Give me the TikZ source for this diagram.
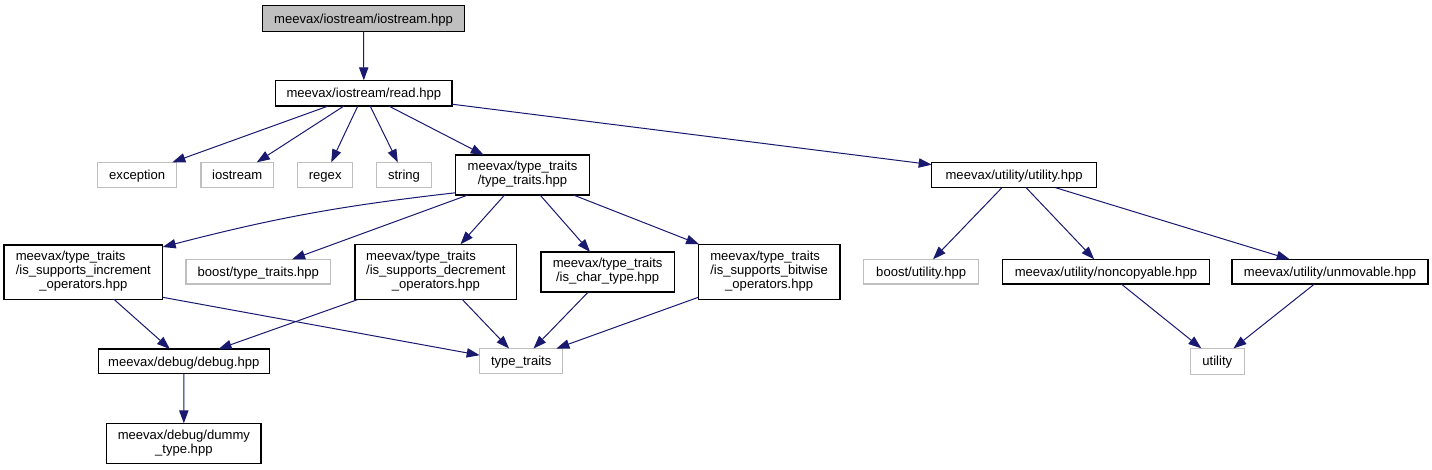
\documentclass[tikz,border=0pt]{standalone}
\usepackage{fontspec}
\setmainfont{Liberation Sans}
\usetikzlibrary{arrows.meta}
\definecolor{edgeblue}{HTML}{191970}
\definecolor{extgray}{HTML}{BFBFBF}
\tikzset{
  every node/.style={font=\fontsize{9.8}{10.5}\selectfont, inner sep=0pt, outer sep=0pt, align=center},
  oneline/.style={text height=7pt, text depth=0pt},
  docbox/.style={draw=black, line width=0.8pt, fill=white, rectangle},
  extbox/.style={draw=extgray, line width=0.8pt, fill=white, rectangle},
  rootbox/.style={draw=black, line width=0.8pt, fill=extgray, rectangle},
  dep/.style={draw=edgeblue, line width=0.75pt, -{Triangle[length=9.75pt,width=7pt]}}
}
\begin{document}
\begin{tikzpicture}[x=0.75pt,y=-0.75pt]
\useasboundingbox (0,0) rectangle (1432,469);
% row 0
\node[rootbox, oneline, minimum width=201.6*0.75pt, minimum height=25.6*0.75pt] (top) at (363.5,18.5) {meevax/iostream/iostream.hpp};
% row 1
\node[docbox, oneline, minimum width=176.3*0.75pt, minimum height=25.7*0.75pt] (read) at (363.85,93.15) {meevax/iostream/read.hpp};
% row 2
\node[extbox, oneline, minimum width=79*0.75pt, minimum height=25.4*0.75pt] (exc) at (137.2,175) {exception};
\node[extbox, oneline, minimum width=72.3*0.75pt, minimum height=25.4*0.75pt] (ios) at (237.15,175) {iostream};
\node[extbox, oneline, minimum width=55*0.75pt, minimum height=25.4*0.75pt] (regex) at (325.2,175) {regex};
\node[extbox, oneline, minimum width=55.4*0.75pt, minimum height=25.4*0.75pt] (string) at (404,175) {string};
\node[docbox, minimum width=133.6*0.75pt, minimum height=40*0.75pt] (tt) at (522.5,175) {\begin{tabular}{@{}l@{}}meevax/type\_traits\\\multicolumn{1}{@{}c@{}}{/type\_traits.hpp}\end{tabular}};
\node[docbox, oneline, minimum width=164.8*0.75pt, minimum height=25.4*0.75pt] (util) at (1014.1,175) {meevax/utility/utility.hpp};
% row 3
\node[docbox, minimum width=158.7*0.75pt, minimum height=54.3*0.75pt] (incr) at (83.35,272.15) {\begin{tabular}{@{}l@{}}meevax/type\_traits\\/is\_supports\_increment\\\multicolumn{1}{@{}c@{}}{\_operators.hpp}\end{tabular}};
\node[extbox, oneline, minimum width=144.7*0.75pt, minimum height=24.7*0.75pt] (btt) at (258.35,271.65) {boost/type\_traits.hpp};
\node[docbox, minimum width=161.7*0.75pt, minimum height=55*0.75pt] (decr) at (435.85,271.8) {\begin{tabular}{@{}l@{}}meevax/type\_traits\\/is\_supports\_decrement\\\multicolumn{1}{@{}c@{}}{\_operators.hpp}\end{tabular}};
\node[docbox, minimum width=133.3*0.75pt, minimum height=40*0.75pt] (ischar) at (607.65,272) {\begin{tabular}{@{}l@{}}meevax/type\_traits\\\multicolumn{1}{@{}c@{}}{/is\_char\_type.hpp}\end{tabular}};
\node[docbox, minimum width=141.7*0.75pt, minimum height=55*0.75pt] (bitw) at (769.15,271.8) {\begin{tabular}{@{}l@{}}meevax/type\_traits\\/is\_supports\_bitwise\\\multicolumn{1}{@{}c@{}}{\_operators.hpp}\end{tabular}};
\node[extbox, oneline, minimum width=114.7*0.75pt, minimum height=24.7*0.75pt] (butil) at (921.15,271.65) {boost/utility.hpp};
\node[docbox, oneline, minimum width=206.3*0.75pt, minimum height=24.7*0.75pt] (noncp) at (1105.9,271.65) {meevax/utility/noncopyable.hpp};
\node[docbox, oneline, minimum width=196*0.75pt, minimum height=24.7*0.75pt] (unmov) at (1330,271.65) {meevax/utility/unmovable.hpp};
% row 4
\node[docbox, oneline, minimum width=171*0.75pt, minimum height=24.7*0.75pt] (debug) at (183.8,361.35) {meevax/debug/debug.hpp};
\node[extbox, oneline, minimum width=83*0.75pt, minimum height=25.4*0.75pt] (ttsys) at (521.2,361.2) {type\_traits};
\node[extbox, oneline, minimum width=54*0.75pt, minimum height=25.7*0.75pt] (utilsys) at (1217.3,361.2) {utility};
% row 5
\node[docbox, minimum width=154.3*0.75pt, minimum height=40*0.75pt] (dummy) at (183.85,443.3) {\begin{tabular}{@{}l@{}}meevax/debug/dummy\\\multicolumn{1}{@{}c@{}}{\_type.hpp}\end{tabular}};
% edges
\draw[dep] (top) -- (read);
\draw[dep] (read) -- (exc);
\draw[dep] (read) -- (ios);
\draw[dep] (read) -- (regex);
\draw[dep] (read) -- (string);
\draw[dep] (read) -- (tt);
\draw[dep] (read) -- (util);
\draw[dep] ([yshift=1.7pt]tt.south west) to[bend right=4] ([yshift=-1.5pt]incr.north east);
\draw[dep] (tt) -- (btt);
\draw[dep] (tt) -- (decr);
\draw[dep] (tt) -- (ischar);
\draw[dep] (tt) -- (bitw);
\draw[dep] (util) -- (butil);
\draw[dep] (util) -- (noncp);
\draw[dep] (util) -- (unmov);
\draw[dep] (incr) -- (debug);
\draw[dep] ([yshift=1.5pt]incr.south east) -- ([yshift=4.5pt]ttsys.west);
\draw[dep] (decr) -- (debug);
\draw[dep] (decr) -- (ttsys);
\draw[dep] (ischar) -- (ttsys);
\draw[dep] (bitw) -- (ttsys);
\draw[dep] (noncp) -- (utilsys);
\draw[dep] (unmov) -- (utilsys);
\draw[dep] (debug) -- (dummy);
\end{tikzpicture}
\end{document}
